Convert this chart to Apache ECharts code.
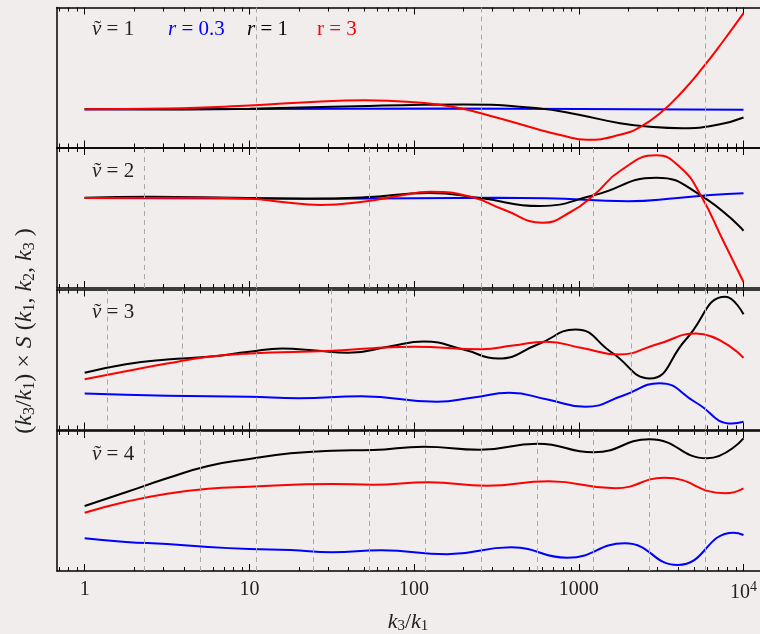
<!DOCTYPE html>
<html>
<head>
<meta charset="utf-8">
<script src="https://cdn.jsdelivr.net/npm/echarts@6/dist/echarts.min.js"></script>
<style>
html, body { margin: 0; padding: 0; background: #f0edec; }
#main { width: 760px; height: 634px; }
</style>
</head>
<body>
<div id="main"></div>
<script>
// each point: [log10(k3/k1), value]; panels have no y scale, values are in panel units (0..140)

// nu = 1
var nu1Blue = [[0,38.3],[1,38.4],[2.2,39],[3,38.5],[4,37.7]];
var nu1Black = [[0,38.3],[0.6,38],[1,38.7],[1.5,40.7],[2.3,43.1],[2.75,39.3],[3,32.7],[3.25,24.3],[3.45,20.5],[3.63,19.3],[3.85,23],[4,30]];
var nu1Red = [[0,38.3],[0.5,39],[1,42],[1.35,45.3],[1.7,47.3],[2,45.3],[2.25,40.3],[2.5,30],[2.75,18.3],[2.9,12],[3.05,7.7],
    [3.25,12.7],[3.375,20.7],[3.5,35.3],[3.625,55.3],[3.75,79.3],[3.875,106],[4,134.3]];
// nu = 2
var nu2Blue = [[0,90],[1.5,89.3],[2.5,90.3],[2.8,89.8],[3.3,86.8],[3.6,90],[3.8,93],[4,94.7]];
var nu2Black = [[0,90.3],[0.4,91.3],[0.9,90.3],[1.35,89.3],[1.7,90.7],[2.09,95],[2.4,90],[2.76,82],[3.09,92.7],[3.47,110.3],
    [3.74,92.7],[4,57.3]];
var nu2Red = [[0,90],[0.7,90.2],[1,89.3],[1.2,86],[1.43,83],[1.7,86.5],[1.9,92],[2.1,96.3],[2.35,91],[2.55,78],[2.78,65.3],
    [2.95,76],[3.09,92.7],[3.25,117],[3.47,132.7],[3.62,120],[3.74,92.7],[3.875,47.7],[4,6]];
// nu = 3
var nu3Blue = [[0,36],[0.5,33.7],[1,32.7],[1.3,31.3],[1.68,33.3],[2.14,27.7],[2.36,32],[2.58,36.7],[2.81,30],[3.04,22.7],
    [3.27,34],[3.49,46.3],[3.71,27],[3.93,6],[4,7.7]];
var nu3Black = [[0,56.7],[0.25,65.3],[0.5,70],[0.75,72.7],[1,77.7],[1.2,81],[1.4,79],[1.6,76.7],[1.85,83],[2.06,88],[2.3,80],
    [2.51,71],[2.75,85],[2.98,100],[3.2,77],[3.43,51],[3.65,90],[3.89,132.7],[4,115.3]];
var nu3Red = [[0,50.3],[0.25,58.3],[0.5,66],[0.75,72.7],[1,76],[1.5,78.7],[1.75,81.3],[2,82.7],[2.41,80.3],[2.6,84],[2.8,87.7],
    [3.02,81.5],[3.24,75],[3.48,85.5],[3.71,96],[4,71.7]];
// nu = 4
var nu4Blue = [[0,32.7],[0.25,29],[0.5,27],[0.75,24],[1,22],[1.25,21],[1.5,18.7],[1.8,20.7],[2.2,16.7],[2.59,23.7],[2.93,13.3],
    [3.28,27.7],[3.6,6],[3.94,38.3],[4,36]];
var nu4Black = [[0,65],[0.25,78.7],[0.5,92.7],[0.75,105],[1,112],[1.25,117.7],[1.5,120.3],[1.75,121],[2.06,124.3],[2.4,121.3],
    [2.75,127.3],[3.09,118.7],[3.43,131.7],[3.78,112.7],[4,132.7]];
var nu4Red = [[0,58.3],[0.25,69.3],[0.5,77.3],[0.75,82.3],[1,84.3],[1.5,87],[1.75,86.3],[2.09,88.7],[2.44,85.3],[2.82,89.7],
    [3.22,82.7],[3.52,93.3],[3.89,77.7],[4,82.7]];

// dashed guide lines, log10(k3/k1)
var dashNu1 = [1.045, 2.408, 3.77];
var dashNu2 = [0.364, 1.045, 1.726, 2.408, 3.089, 3.77];
var dashNu3 = [0.137, 0.591, 1.045, 1.499, 1.954, 2.408, 2.862, 3.316, 3.77];
var dashNu4 = [0.364, 0.704, 1.045, 1.386, 1.726, 2.067, 2.408, 2.748, 3.089, 3.429, 3.77];

var nuLabels = ['1', '2', '3', '4'];
var majorTicks = [0, 1, 2, 3, 4];

var panels = [
    {blue: nu1Blue, black: nu1Black, red: nu1Red, dash: dashNu1},
    {blue: nu2Blue, black: nu2Black, red: nu2Red, dash: dashNu2},
    {blue: nu3Blue, black: nu3Black, red: nu3Red, dash: dashNu3},
    {blue: nu4Blue, black: nu4Black, red: nu4Red, dash: dashNu4}
];

var minorTicks = [];
for (var d = -1; d <= 3; d++) {
    for (var m = 2; m <= 9; m++) {
        var v = d + Math.log10(m);
        if (v > -0.168 && v < 4) minorTicks.push(v);
    }
}

var FONT = '"Liberation Serif", "DejaVu Serif", serif';
var xMin = -0.168, xMax = 4.1;
var gridTop = [7.5, 148, 289.5, 431];

var chart = echarts.init(document.getElementById('main'));

var grids = [], xAxes = [], yAxes = [], series = [], graphics = [];

function mathRich(size, sub) {
    return {
        i: {fontFamily: FONT, fontStyle: 'italic', fontSize: size, fill: '#222'},
        n: {fontFamily: FONT, fontSize: size, fill: '#222'},
        s: {fontFamily: FONT, fontSize: sub, fill: '#222', padding: [Math.round(size * 0.42), 0, 0, 0]}
    };
}

panels.forEach(function (p, g) {
    grids.push({left: 57, top: gridTop[g], width: 707, height: 140});
    var base = xAxes.length;
    ['bottom', 'top'].forEach(function (pos) {
        xAxes.push({
            type: 'value', gridIndex: g, position: pos, min: xMin, max: xMax,
            axisLine: {show: true, onZero: false, lineStyle: {color: '#000', width: 1.5}},
            axisTick: {show: true, inside: true, length: 7, customValues: majorTicks,
                lineStyle: {color: '#000', width: 1}},
            axisLabel: {
                show: g === 3 && pos === 'bottom',
                customValues: majorTicks,
                margin: 9,
                fontFamily: FONT, fontSize: 20, color: '#222',
                formatter: function (v) {
                    if (Math.abs(v - 4) < 1e-6) return '10{sup|4}';
                    return String(Math.round(Math.pow(10, v)));
                },
                rich: {sup: {fontFamily: FONT, fontSize: 14, color: '#222', padding: [0, 0, 12, 0]}}
            },
            splitLine: {show: false}
        });
        xAxes.push({
            type: 'value', gridIndex: g, position: pos, min: xMin, max: xMax,
            axisLine: {show: false, onZero: false},
            axisTick: {show: true, inside: true, length: 4, customValues: minorTicks,
                lineStyle: {color: '#000', width: 1}},
            axisLabel: {show: false},
            splitLine: {show: false}
        });
    });
    yAxes.push({
        type: 'value', gridIndex: g, min: 0, max: 140,
        axisLine: {show: true, onZero: false, lineStyle: {color: '#000', width: 1.5}},
        axisTick: {show: false}, axisLabel: {show: false}, splitLine: {show: false}
    });

    series.push({
        type: 'line', xAxisIndex: base, yAxisIndex: g, data: [], silent: true,
        markLine: {
            silent: true, symbol: ['none', 'none'], label: {show: false},
            lineStyle: {color: '#a8a8a8', type: [5, 4], width: 1},
            data: p.dash.map(function (v) { return {xAxis: v}; })
        }
    });
    [['blue', '#0000ff'], ['black', '#000000'], ['red', '#ff0000']].forEach(function (c) {
        series.push({
            type: 'line', xAxisIndex: base, yAxisIndex: g, data: p[c[0]],
            smooth: 0.5, symbol: 'none', lineStyle: {color: c[1], width: 2}
        });
    });

    // nu-tilde label
    var ly = gridTop[g] + (g === 0 ? 22 : 23);
    graphics.push({
        type: 'text', x: 92, y: ly,
        style: {
            text: '{i|\u03bd}{n| = ' + nuLabels[g] + '}',
            textVerticalAlign: 'middle',
            rich: {
                i: {fontFamily: FONT, fontStyle: 'italic', fontSize: 21, fill: '#222'},
                n: {fontFamily: FONT, fontSize: 21, fill: '#222'}
            }
        }
    });
    graphics.push({
        type: 'text', x: 94, y: ly,
        style: {text: '\u02dc', font: '21px ' + FONT, fill: '#222', textVerticalAlign: 'middle'}
    });
});

// legend in first panel
[['r', ' = 0.3', '#0000ff', 168, 'italic'], ['r', ' = 1', '#000', 247, 'italic'], ['r', ' = 3', '#ff0000', 317, 'normal']]
    .forEach(function (l) {
        graphics.push({
            type: 'text', x: l[3], y: 29.5,
            style: {
                text: '{i|' + l[0] + '}{n|' + l[1] + '}',
                textVerticalAlign: 'middle',
                rich: {
                    i: {fontFamily: FONT, fontStyle: l[4], fontSize: 21, fill: l[2]},
                    n: {fontFamily: FONT, fontSize: 21, fill: l[2]}
                }
            }
        });
    });

// axis titles
graphics.push({
    type: 'text', x: 408, y: 622,
    style: {
        text: '{i|k}{s|3}{n|/}{i|k}{s|1}',
        textAlign: 'center', textVerticalAlign: 'middle',
        rich: mathRich(22, 15)
    }
});
graphics.push({
    type: 'text', x: 25, y: 331, rotation: Math.PI / 2,
    style: {
        text: '{n|(}{i|k}{s|3}{n|/}{i|k}{s|1}{n|) \u00d7 }{i|S}{n| (}{i|k}{s|1}{n|, }{i|k}{s|2}{n|, }{i|k}{s|3}{n| )}',
        textAlign: 'center', textVerticalAlign: 'middle',
        rich: mathRich(24, 16)
    }
});

chart.setOption({
    backgroundColor: '#f0edec',
    animation: false,
    grid: grids,
    xAxis: xAxes,
    yAxis: yAxes,
    series: series,
    graphic: graphics
});
</script>
</body>
</html>
